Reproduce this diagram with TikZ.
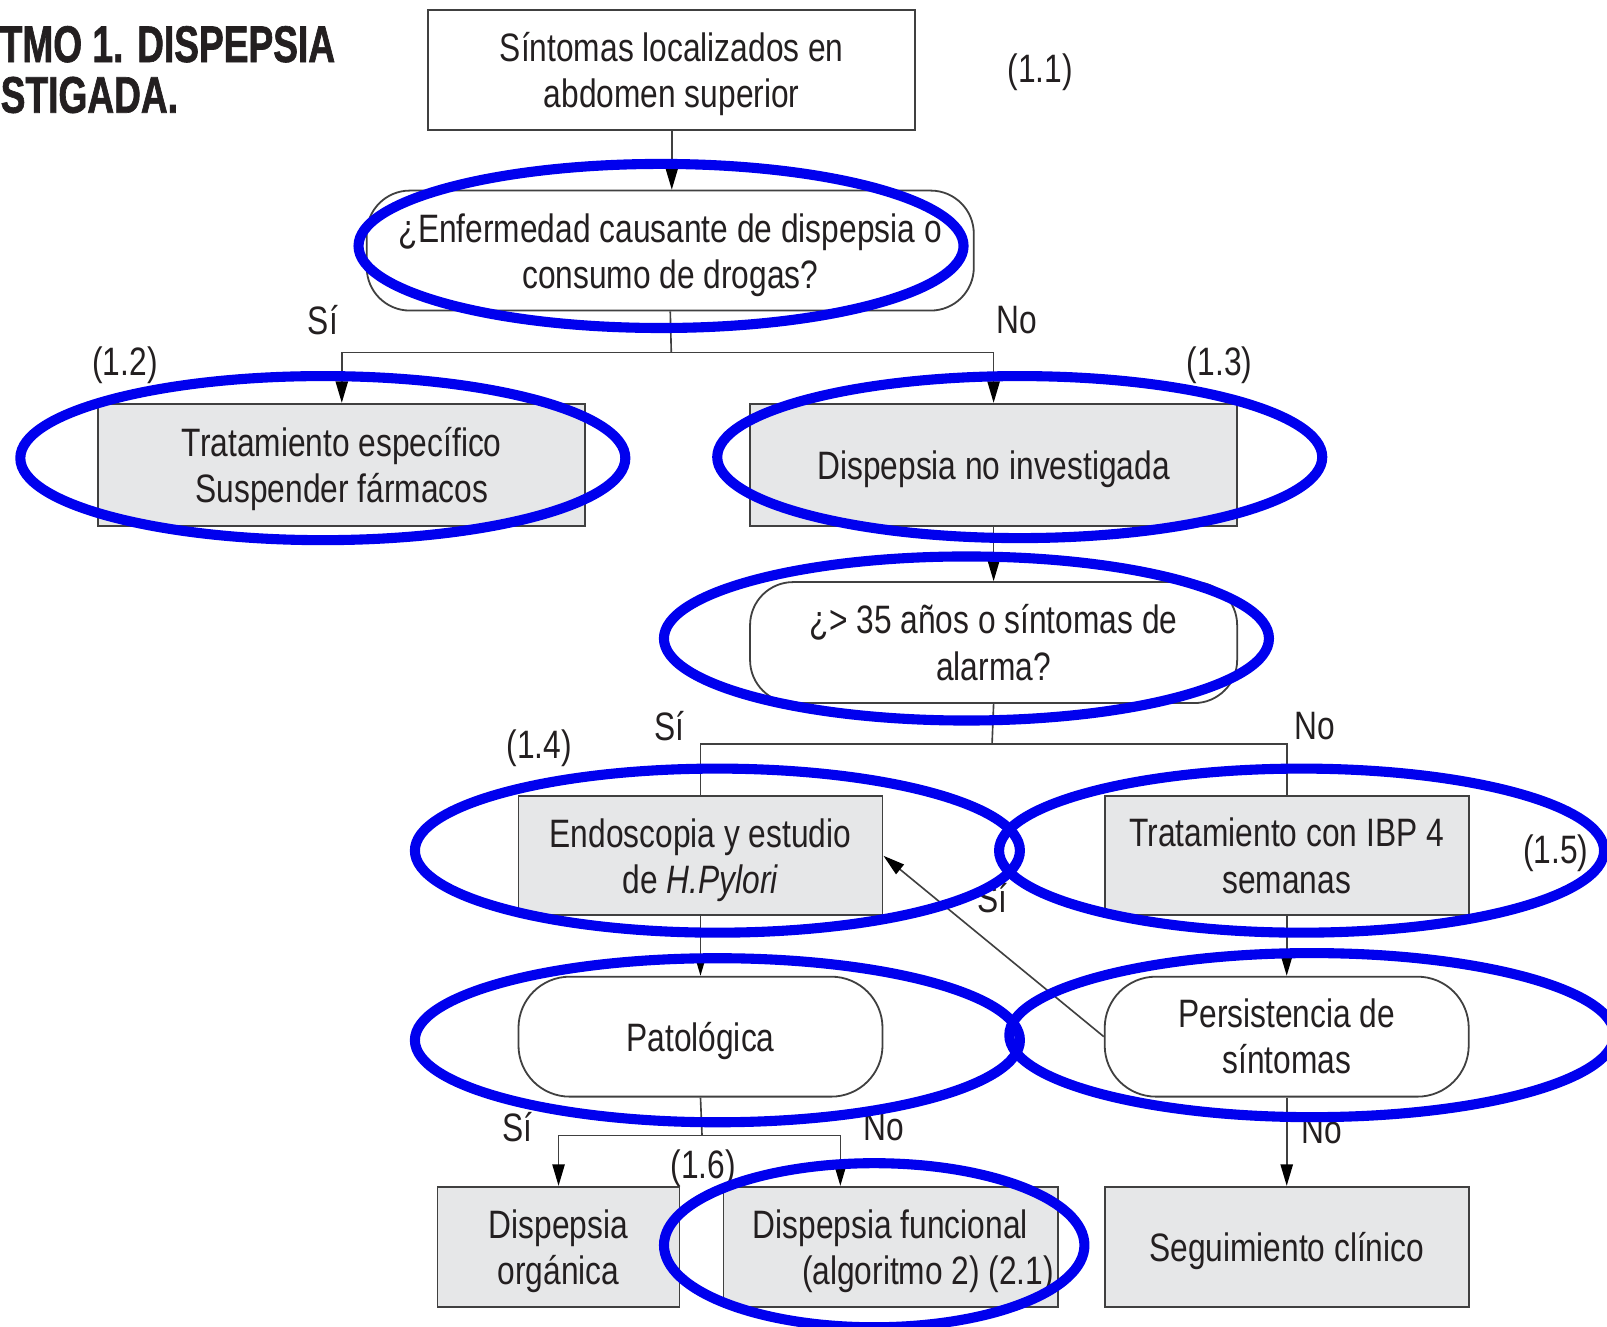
\documentclass[tikz,border=0pt]{standalone}
\usepackage{fontspec}
\setmainfont{Liberation Sans}[FakeStretch=0.8]
\newfontfamily\titlefont{Liberation Sans}[FakeStretch=0.72, BoldFeatures={FakeBold=1.2}]
\usetikzlibrary{arrows.meta}
\definecolor{boxgray}{HTML}{E6E7E8}
\definecolor{linegray}{HTML}{404040}
\definecolor{txt}{HTML}{231F20}
\definecolor{annotblue}{RGB}{0,0,238}
\newcommand\dn{\rule{0pt}{10.4pt}}
\begin{document}
\begin{tikzpicture}[x=0.01cm,y=-0.01cm,
  every node/.style={text=txt, font=\fontsize{11}{12.8}\selectfont},
  plain/.style={draw=linegray, line width=0.5pt, fill=white, inner sep=2pt, align=center},
  shaded/.style={plain, fill=boxgray},
  rnd/.style={plain, rounded corners=0.42cm},
  conn/.style={draw=linegray, line width=0.45pt},
  arr/.style={conn, -{Triangle[length=0.21cm,width=0.12cm,color=black]}},
  lbl/.style={inner sep=0pt},
  annot/.style={draw=annotblue, line width=2.8pt},
]
\useasboundingbox (0,0) rectangle (1568,1294);
\fill[white] (0,0) rectangle (1568,1294);

% title
\node[anchor=base west, inner sep=0pt, font=\titlefont\bfseries\fontsize{14.3}{14}\selectfont] (title1) at (-1,60.5) {TMO 1. DISPEPSIA};
\node[anchor=base west, inner sep=0pt, font=\titlefont\bfseries\fontsize{14.3}{14}\selectfont] (title2) at (0,110) {STIGADA.};

% nodes
\node[plain, minimum width=4.75cm, minimum height=1.17cm] (n1) at (655.5,68.5) {\dn Síntomas localizados en\\abdomen superior};
\node[rnd, minimum width=5.92cm, minimum height=1.17cm] (d1) at (654,244.5) {\dn ¿Enfermedad causante de dispepsia o\\consumo de drogas?};
\node[shaded, minimum width=4.75cm, minimum height=1.19cm] (t1) at (333.5,453.5) {\dn Tratamiento específico\\Suspender fármacos};
\node[shaded, minimum width=4.75cm, minimum height=1.19cm] (t2) at (969.5,453.5) {\dn Dispepsia no investigada};
\node[rnd, minimum width=4.75cm, minimum height=1.18cm] (d2) at (969.5,627) {¿> 35 años o síntomas de\\alarma?};
\node[shaded, minimum width=3.55cm, minimum height=1.16cm] (e1) at (683.5,835) {\dn Endoscopia y estudio\\de \textit{H.Pylori}};
\node[shaded, minimum width=3.55cm, minimum height=1.16cm] (t3) at (1255.5,835) {Tratamiento con IBP 4\\semanas};
\node[plain, rounded corners=0.5cm, minimum width=3.55cm, minimum height=1.17cm] (pat) at (683.5,1011.5) {\dn Patológica};
\node[plain, rounded corners=0.5cm, minimum width=3.55cm, minimum height=1.17cm] (p2) at (1255.5,1011.5) {Persistencia de\\síntomas};
\node[shaded, minimum width=2.36cm, minimum height=1.17cm] (o1) at (545,1216.5) {\dn Dispepsia\\orgánica};
\node[shaded, minimum width=3.26cm, minimum height=1.17cm, align=left, inner xsep=0pt] (f1) at (869,1216.5) {\dn\hspace*{0.25cm}Dispepsia funcional\\\hspace*{0.73cm}(algoritmo 2) (2.1)};
\node[shaded, minimum width=3.55cm, minimum height=1.17cm] (s1) at (1255.5,1216.5) {\dn Seguimiento clínico};

% connectors
\draw[arr] (n1.south) -- (n1.south |- d1.north);
\coordinate (j1) at (655,344);
\draw[conn] (d1.south) -- (j1);
\draw[arr] (j1) -| (t1.north);
\draw[arr] (j1) -| (t2.north);
\draw[arr] (t2.south) -- (d2.north);
\coordinate (j2) at (968,726);
\draw[conn] (d2.south) -- (j2);
\draw[conn] (j2) -| (e1.north);
\draw[conn] (j2) -| (t3.north);
\draw[arr] (e1.south) -- (pat.north);
\draw[arr] (t3.south) -- (p2.north);
\draw[arr] (p2.west) -- (e1.east);
\coordinate (j3) at (685,1108);
\draw[conn] (pat.south) -- (j3);
\draw[arr] (j3) -| (o1.north);
\draw[arr] (j3) -| ([xshift=-0.49cm]f1.north);
\draw[arr] (p2.south) -- (s1.north);

% labels
\node[lbl] (l11) at (1015,70.5) {(1.1)};
\node[lbl] (l12) at (122,356.5) {(1.2)};
\node[lbl] (l13) at (1190,356.5) {(1.3)};
\node[lbl] (l14) at (526,730.5) {(1.4)};
\node[lbl] (l15) at (1518,832.5) {(1.5)};
\node[lbl] (l16) at (686,1139.5) {(1.6)};
\node[lbl] (si1) at (315,312) {Sí};
\node[lbl] (no1) at (992,312) {No};
\node[lbl] (si2) at (653,708) {Sí};
\node[lbl] (no2) at (1283,708) {No};
\node[lbl] (si3) at (968,876) {Sí};
\node[lbl] (si4) at (505,1100) {Sí};
\node[lbl] (no4) at (862,1100) {No};
\node[lbl] (no5) at (1290,1103) {No};

% annotation ellipses
\draw[annot] (645,240) ellipse [x radius=2.95cm, y radius=0.80cm];
\draw[annot] (315,447) ellipse [x radius=2.95cm, y radius=0.80cm];
\draw[annot] (995,446) ellipse [x radius=2.95cm, y radius=0.79cm];
\draw[annot] (943,623) ellipse [x radius=2.95cm, y radius=0.80cm];
\draw[annot] (700,830) ellipse [x radius=2.95cm, y radius=0.80cm];
\draw[annot] (1270,830) ellipse [x radius=2.95cm, y radius=0.80cm];
\draw[annot] (700,1015) ellipse [x radius=2.95cm, y radius=0.80cm];
\draw[annot] (1280,1010) ellipse [x radius=2.95cm, y radius=0.80cm];
\draw[annot] (853,1215) ellipse [x radius=2.05cm, y radius=0.80cm];
\end{tikzpicture}
\end{document}
